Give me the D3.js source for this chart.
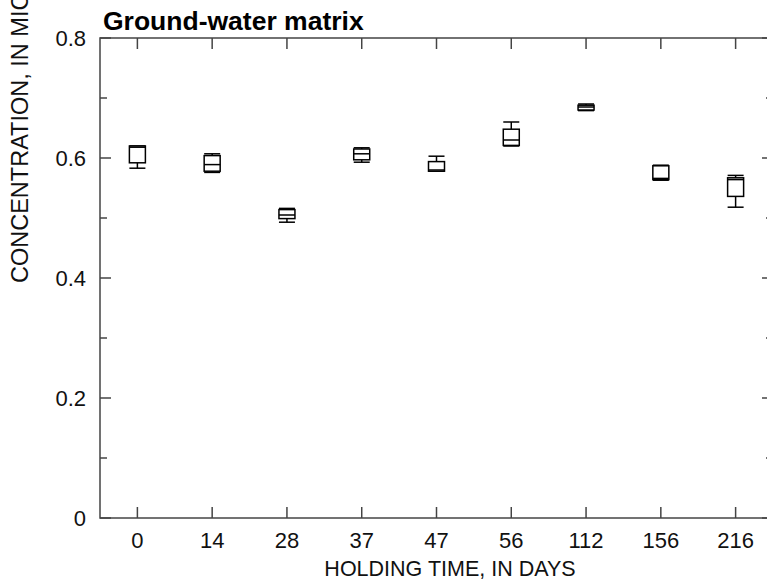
<!DOCTYPE html>
<html>
<head>
<meta charset="utf-8">
<script src="https://cdn.jsdelivr.net/npm/d3@7"></script>
<style>
  body { margin: 0; background: #fff; }
  svg { display: block; font-family: Arial, "Liberation Sans", sans-serif; }
</style>
</head>
<body>
<div class="chart"></div>
<script>
// holding time categories (days)
const holdingDays = ['0', '14', '28', '37', '47', '56', '112', '156', '216'];

// box plot statistics, micrograms per liter
const mins    = [0.583, 0.576, 0.493, 0.593, 0.578, 0.620, 0.679, 0.563, 0.518];
const q1s     = [0.592, 0.578, 0.499, 0.597, 0.578, 0.621, 0.680, 0.564, 0.536];
const medians = [0.618, 0.589, 0.505, 0.607, 0.580, 0.630, 0.685, 0.566, 0.564];
const q3s     = [0.620, 0.604, 0.514, 0.615, 0.594, 0.648, 0.688, 0.587, 0.567];
const maxs    = [0.620, 0.607, 0.516, 0.617, 0.603, 0.660, 0.690, 0.588, 0.571];

const yMajor = [0, 0.2, 0.4, 0.6, 0.8];
const yMinor = [0.1, 0.3, 0.5, 0.7];

const width = 767, height = 584;
const margin = {top: 38, right: -6, bottom: 66, left: 100};
const axisColor = '#444';
const boxW = 16;

const data = holdingDays.map((d, i) => ({
    day: d, min: mins[i], q1: q1s[i], med: medians[i], q3: q3s[i], max: maxs[i]
}));

const svg = d3.select('.chart')
    .append('svg')
    .attr('width', width)
    .attr('height', height);

const x = d3.scalePoint()
    .domain(holdingDays)
    .range([margin.left, width - margin.right])
    .padding(0.5);

const y = d3.scaleLinear()
    .domain([0, 0.8])
    .range([height - margin.bottom, margin.top]);

const x0 = margin.left, x1 = width - margin.right;
const y0 = y(0), y1 = y(0.8);

// frame
const frame = svg.append('g')
    .attr('stroke', axisColor)
    .attr('stroke-width', 1.5)
    .attr('fill', 'none');

frame.append('rect')
    .attr('x', x0)
    .attr('y', y1)
    .attr('width', x1 - x0)
    .attr('height', y0 - y1);

// y ticks, left and right, pointing inward
const yTicks = yMajor.map(v => ({v, len: 11})).concat(yMinor.map(v => ({v, len: 7})));
frame.selectAll('.ytl')
    .data(yTicks)
    .enter()
    .append('line')
    .attr('x1', x0).attr('x2', d => x0 + d.len)
    .attr('y1', d => y(d.v)).attr('y2', d => y(d.v));

frame.selectAll('.ytr')
    .data(yTicks)
    .enter()
    .append('line')
    .attr('x1', x1).attr('x2', d => x1 - d.len)
    .attr('y1', d => y(d.v)).attr('y2', d => y(d.v));

// x ticks, bottom and top
frame.selectAll('.xtb')
    .data(holdingDays)
    .enter()
    .append('line')
    .attr('x1', d => x(d)).attr('x2', d => x(d))
    .attr('y1', y0).attr('y2', y0 - 11);

frame.selectAll('.xtt')
    .data(holdingDays)
    .enter()
    .append('line')
    .attr('x1', d => x(d)).attr('x2', d => x(d))
    .attr('y1', y1).attr('y2', y1 + 11);

// tick labels
svg.selectAll('.ylab')
    .data(yMajor)
    .enter()
    .append('text')
    .attr('x', x0 - 14)
    .attr('y', d => y(d))
    .attr('dy', '0.36em')
    .attr('text-anchor', 'end')
    .attr('font-size', 22)
    .attr('fill', '#111')
    .text(d => d === 0 ? '0' : d3.format('.1f')(d));

svg.selectAll('.xlab')
    .data(holdingDays)
    .enter()
    .append('text')
    .attr('x', d => x(d))
    .attr('y', y0 + 30)
    .attr('text-anchor', 'middle')
    .attr('font-size', 22)
    .attr('fill', '#111')
    .text(d => d);

// axis titles
svg.append('text')
    .attr('x', 450)
    .attr('y', 576)
    .attr('text-anchor', 'middle')
    .attr('font-size', 21.5)
    .attr('fill', '#111')
    .text('HOLDING TIME, IN DAYS');

svg.append('text')
    .attr('transform', 'translate(28, 283) rotate(-90)')
    .attr('text-anchor', 'start')
    .attr('font-size', 23.5)
    .attr('fill', '#111')
    .text('CONCENTRATION, IN MICROGRAMS PER LITER');

svg.append('text')
    .attr('x', 103)
    .attr('y', 30)
    .attr('font-size', 26.5)
    .attr('font-weight', 'bold')
    .attr('fill', '#000')
    .text('Ground-water matrix');

// boxes
const boxes = svg.append('g')
    .attr('stroke', '#000')
    .attr('stroke-width', 1.5)
    .attr('fill', 'none')
    .selectAll('g')
    .data(data)
    .enter()
    .append('g');

boxes.append('line')
    .attr('x1', d => x(d.day)).attr('x2', d => x(d.day))
    .attr('y1', d => y(d.max)).attr('y2', d => y(d.q3));

boxes.append('line')
    .attr('x1', d => x(d.day)).attr('x2', d => x(d.day))
    .attr('y1', d => y(d.q1)).attr('y2', d => y(d.min));

boxes.append('line')
    .attr('x1', d => x(d.day) - boxW / 2).attr('x2', d => x(d.day) + boxW / 2)
    .attr('y1', d => y(d.max)).attr('y2', d => y(d.max));

boxes.append('line')
    .attr('x1', d => x(d.day) - boxW / 2).attr('x2', d => x(d.day) + boxW / 2)
    .attr('y1', d => y(d.min)).attr('y2', d => y(d.min));

boxes.append('rect')
    .attr('x', d => x(d.day) - boxW / 2)
    .attr('y', d => y(d.q3))
    .attr('width', boxW)
    .attr('height', d => y(d.q1) - y(d.q3))
    .attr('fill', '#fff');

boxes.append('line')
    .attr('x1', d => x(d.day) - boxW / 2).attr('x2', d => x(d.day) + boxW / 2)
    .attr('y1', d => y(d.med)).attr('y2', d => y(d.med));
</script>
</body>
</html>
